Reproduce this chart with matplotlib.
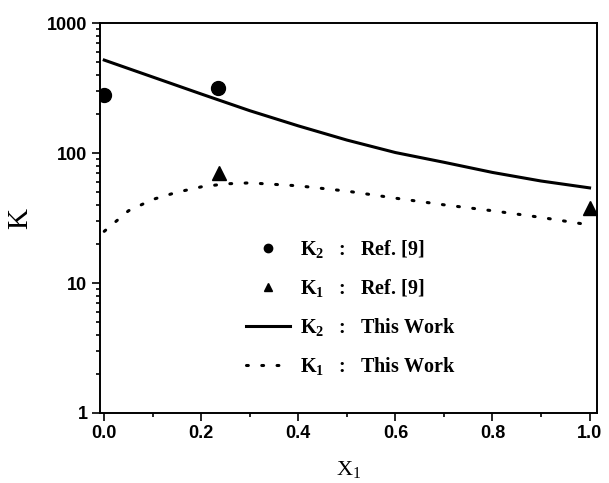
import matplotlib
matplotlib.use("Agg")
import matplotlib.pyplot as plt
from matplotlib.ticker import FixedLocator, LogLocator, NullFormatter, FixedFormatter

# Daten
x_k2_ref = [0.0, 0.235]
k2_ref = [280, 316]
x_k1_ref = [0.237, 1.0]
k1_ref = [70, 38]

x_k2_fit = [0.0, 0.1, 0.2, 0.3, 0.4, 0.5, 0.6, 0.7, 0.8, 0.9, 1.0]
k2_fit = [520, 385, 285, 212, 162, 126, 101, 85, 71, 61, 54]

x_k1_fit = [0.0, 0.05, 0.1, 0.15, 0.2, 0.25, 0.3, 0.4, 0.5, 0.6, 0.7, 0.8, 0.9, 1.0]
k1_fit = [25, 36, 44, 50, 55, 58, 59, 56, 51, 45, 40, 36, 32, 28]

x_ticks = [0.0, 0.2, 0.4, 0.6, 0.8, 1.0]
x_ticklabels = ["0.0", "0.2", "0.4", "0.6", "0.8", "1.0"]
y_ticks = [1, 10, 100, 1000]
y_ticklabels = ["1", "10", "100", "1000"]

plt.rcParams["mathtext.fontset"] = "custom"
plt.rcParams["mathtext.rm"] = "Liberation Serif"
plt.rcParams["mathtext.bf"] = "Liberation Serif:bold"
plt.rcParams["mathtext.it"] = "Liberation Serif:italic"

fig = plt.figure(figsize=(6.09, 4.83), dpi=100)
ax = fig.add_axes([0.164, 0.145, 0.816, 0.807])

ax.plot(x_k2_ref, k2_ref, "o", color="black", markersize=10, label=r"$\mathbf{K_2}$   :   Ref. [9]")
ax.plot(x_k1_ref, k1_ref, "^", color="black", markersize=10, label=r"$\mathbf{K_1}$   :   Ref. [9]")
ax.plot(x_k2_fit, k2_fit, "-", color="black", linewidth=2.2, label=r"$\mathbf{K_2}$   :   This Work")
ax.plot(x_k1_fit, k1_fit, color="black", linewidth=2.2, linestyle=(0, (0.6, 4.4)),
        dash_capstyle="round", label=r"$\mathbf{K_1}$   :   This Work")

ax.set_yscale("log")
ax.set_ylim(1, 1000)
ax.set_xlim(-0.009, 1.015)

ax.xaxis.set_major_locator(FixedLocator(x_ticks))
ax.xaxis.set_major_formatter(FixedFormatter(x_ticklabels))
ax.xaxis.set_minor_locator(FixedLocator([0.1, 0.3, 0.5, 0.7, 0.9]))
ax.yaxis.set_major_locator(FixedLocator(y_ticks))
ax.yaxis.set_major_formatter(FixedFormatter(y_ticklabels))
ax.yaxis.set_minor_locator(LogLocator(base=10, subs=range(2, 10)))
ax.yaxis.set_minor_formatter(NullFormatter())

ax.tick_params(which="both", direction="out", top=False, right=False, width=1.2)
ax.tick_params(which="major", length=6, pad=3)
ax.tick_params(which="minor", length=3)
for lab in ax.get_xticklabels() + ax.get_yticklabels():
    lab.set_fontfamily("Liberation Sans")
    lab.set_fontweight("bold")
    lab.set_fontsize(13)

for sp in ax.spines.values():
    sp.set_linewidth(1.4)

ax.set_ylabel("K", fontfamily="Liberation Serif", fontsize=21, labelpad=10)
ax.set_xlabel(r"X$_1$", fontfamily="Liberation Serif", fontsize=16, labelpad=12)

leg = ax.legend(loc="center", bbox_to_anchor=(0.505, 0.27), frameon=False,
                prop={"family": "Liberation Serif", "weight": "bold", "size": 14.5},
                handlelength=2.2, handletextpad=0.5, labelspacing=0.85, markerscale=0.6)

fig.savefig("out.png", dpi=100)
